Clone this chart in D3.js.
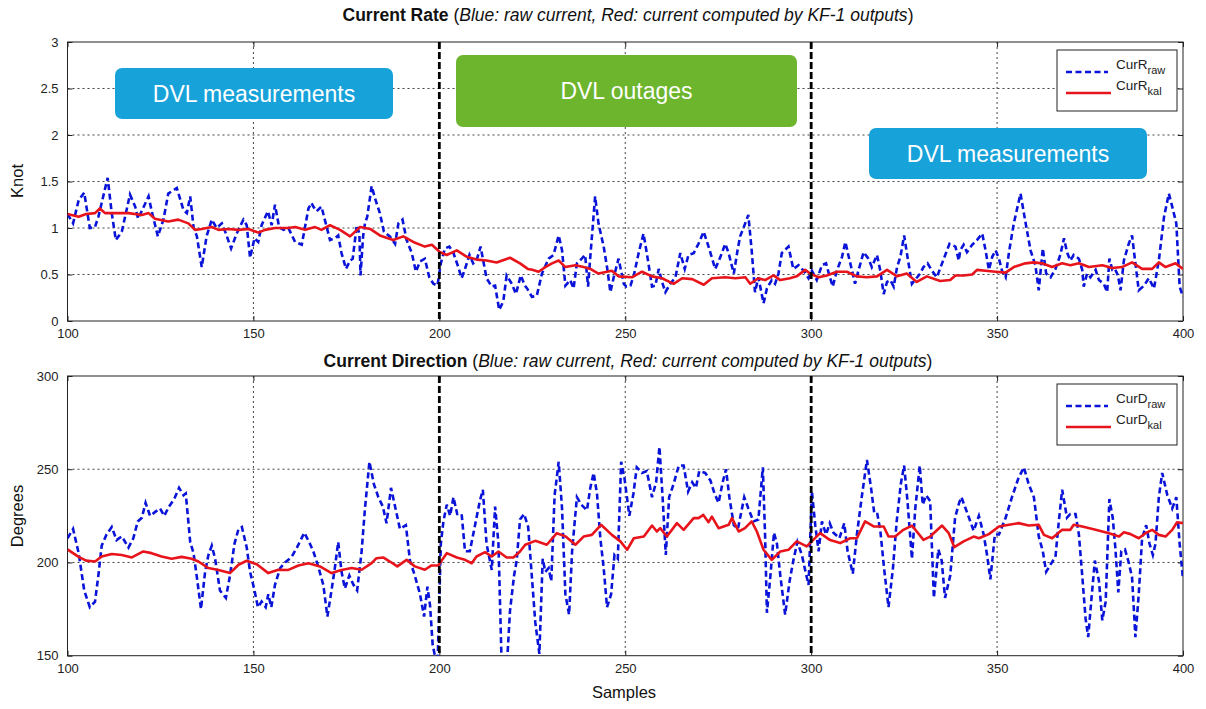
<!DOCTYPE html>
<html>
<head>
<meta charset="utf-8">
<script src="https://cdn.jsdelivr.net/npm/d3@7"></script>
<style>
  body { margin: 0; background: #fff; }
  svg { display: block; font-family: "Liberation Sans", Arial, sans-serif; }
</style>
</head>
<body>
<svg id="chart" width="1206" height="709"></svg>
<script>
// Samples on x (vertices of each trace)
const xTicks = [100, 150, 200, 250, 300, 350, 400];
const rateTicks = [0, 0.5, 1, 1.5, 2, 2.5, 3];
const dirTicks = [150, 200, 250, 300];
const phaseBounds = [200, 300];

const rateRaw = [[100,1.15],[101.5,1.05],[103,1.3],[104.5,1.38],[106,1.0],[107.4,1.01],[108.3,1.12],[110.8,1.54],[111.9,1.16],[113,0.87],[114.6,0.96],[116.8,1.36],[118.2,1.23],[119,1.10],[121.8,1.34],[122.6,1.19],[124.3,0.91],[125.8,1.09],[127.1,1.37],[129.4,1.43],[131.2,1.19],[132.1,1.16],[133,1.34],[133.9,1.01],[134.8,0.91],[136.1,0.58],[137.4,0.91],[138.8,1.09],[140.1,1.0],[141.5,1.05],[142.6,0.94],[144,0.78],[145.5,0.94],[147.3,1.09],[148.2,1.03],[149.1,0.68],[150.3,0.89],[151.3,0.85],[152.2,1.03],[153.9,1.18],[154.9,1.03],[155.8,1.25],[156.9,1.01],[158.1,0.98],[159.4,1.0],[161.2,0.85],[163,0.82],[164.8,1.21],[165.6,1.27],[166.1,1.23],[167,1.18],[168.3,1.23],[169.2,1.09],[170.6,0.87],[171.9,0.89],[172.8,0.92],[173.7,0.73],[174.9,0.56],[176,0.65],[176.7,0.67],[177.8,1.03],[178.5,0.94],[178.8,0.49],[179.5,0.91],[180,1.05],[180.6,1.12],[181.8,1.45],[182.7,1.32],[184,1.16],[185.1,0.96],[186.7,0.91],[188.1,0.83],[189,1.05],[190.1,1.09],[191.2,0.87],[192.6,0.73],[193.7,0.53],[194.8,0.64],[196.1,0.67],[197.3,0.47],[198.4,0.40],[199.5,0.38],[200.4,0.62],[201.5,0.78],[202.7,0.80],[203.8,0.73],[205.1,0.58],[206,0.46],[206.9,0.56],[208.1,0.71],[209.1,0.62],[210,0.65],[211.1,0.80],[211.8,0.65],[212.7,0.46],[214.1,0.37],[215,0.38],[216.1,0.12],[217.2,0.21],[218.1,0.49],[219.5,0.40],[220.6,0.29],[221.9,0.49],[223,0.38],[223.6,0.35],[224.9,0.26],[226.2,0.27],[227.6,0.51],[229.4,0.67],[230.7,0.71],[232.1,0.92],[233,0.76],[233.9,0.38],[235.2,0.44],[236.1,0.35],[237,0.62],[238.3,0.67],[239.2,0.71],[240,0.37],[240.6,0.69],[241.9,1.34],[242.8,1.05],[244.2,0.80],[245.1,0.58],[246,0.31],[246.9,0.47],[248.2,0.67],[249.6,0.40],[250.3,0.37],[251.4,0.38],[252.3,0.49],[253.6,0.73],[254.9,0.94],[255.8,0.73],[257.2,0.37],[258.1,0.38],[259,0.56],[259.9,0.42],[260.8,0.31],[262.1,0.40],[263.5,0.47],[264.8,0.73],[266,0.56],[267,0.71],[268.4,0.73],[269.7,0.83],[271.1,0.96],[272.4,0.80],[274.2,0.56],[275.6,0.69],[276.9,0.83],[277.8,0.73],[279.2,0.51],[280.2,0.76],[280.9,0.91],[281.8,1.0],[283.1,1.14],[284,0.76],[284.9,0.31],[285.8,0.47],[287.2,0.19],[288.1,0.35],[289.4,0.44],[290.3,0.40],[291.2,0.51],[292.1,0.73],[293.9,0.80],[295.2,0.56],[296.6,0.60],[298,0.54],[299.3,0.46],[300.2,0.54],[301.5,0.44],[302.9,0.60],[304,0.62],[304.9,0.49],[305.8,0.37],[306.9,0.54],[308.3,0.69],[309.2,0.85],[310.1,0.69],[311,0.54],[311.8,0.40],[312.7,0.54],[314.1,0.74],[315.4,0.67],[316.3,0.58],[317.7,0.71],[318.6,0.54],[319.5,0.29],[320.4,0.42],[321.3,0.44],[322.2,0.37],[323.1,0.58],[324,0.69],[325,0.92],[325.9,0.69],[327.1,0.40],[328.3,0.46],[329.3,0.51],[330.2,0.58],[331.3,0.62],[332.5,0.54],[333.8,0.47],[335.2,0.62],[337.2,0.83],[338.8,0.80],[339.7,0.65],[340.1,0.76],[341,0.82],[341.9,0.74],[343.3,0.82],[344.6,0.87],[346,0.94],[346.9,0.76],[347.8,0.55],[348.7,0.69],[349.6,0.76],[350.5,0.67],[351.4,0.53],[352.3,0.47],[353.2,0.74],[354.5,1.05],[356.3,1.37],[357.6,1.07],[359,0.76],[360.3,0.60],[361.2,0.33],[362.3,0.78],[363.2,0.51],[364.4,0.47],[365.7,0.56],[367,0.71],[368,0.89],[368.8,0.74],[369.7,0.65],[370.6,0.71],[372,0.67],[372.9,0.55],[373.3,0.37],[374.2,0.51],[375.1,0.47],[376.5,0.55],[377.4,0.44],[378.7,0.40],[379.6,0.31],[380.2,0.67],[381,0.55],[381.7,0.56],[382.5,0.49],[383.2,0.33],[384.1,0.65],[385.4,0.83],[386.3,0.92],[387.2,0.62],[388.1,0.33],[389.5,0.38],[390.8,0.46],[392.2,0.35],[393.5,0.65],[394.9,1.12],[396.2,1.37],[397.1,1.23],[398.2,1.05],[399.1,0.37],[400,0.26]];

const rateKal = [[100,1.15],[103,1.12],[105,1.15],[107.4,1.16],[108.7,1.21],[110.1,1.16],[112.8,1.16],[116.4,1.16],[120,1.14],[121.8,1.16],[123.5,1.10],[127.1,1.07],[129.8,1.09],[132.5,1.05],[134.3,0.98],[136.1,0.99],[138.8,1.01],[140.6,0.98],[143.3,0.99],[146,0.98],[148.7,0.99],[151.3,0.95],[153.1,0.98],[155.8,1.0],[159.4,1.0],[161.2,1.01],[163.9,0.98],[166.6,1.01],[168.3,0.98],[170.6,1.03],[173.3,0.98],[176,0.91],[178.7,1.01],[181.4,0.99],[184,0.92],[187.6,0.87],[190.3,0.91],[193,0.85],[196.1,0.80],[198,0.82],[200.2,0.74],[202,0.71],[204.7,0.76],[207.4,0.69],[210,0.66],[212.7,0.65],[215.4,0.63],[219,0.68],[221.7,0.62],[223.8,0.56],[225,0.55],[226.7,0.53],[228.5,0.58],[230.3,0.62],[232.1,0.65],[233.9,0.58],[236.6,0.60],[238.8,0.58],[240.6,0.56],[242.8,0.51],[246.4,0.54],[248.2,0.48],[251.8,0.47],[254.5,0.53],[257.2,0.48],[259.9,0.46],[263,0.40],[265.3,0.46],[268,0.45],[271.1,0.39],[273.3,0.46],[276.9,0.47],[279.6,0.46],[282.3,0.47],[283.6,0.40],[285.8,0.46],[287.6,0.44],[289.9,0.49],[291.7,0.44],[294.3,0.46],[296.1,0.48],[298.4,0.55],[299.7,0.51],[302,0.47],[304.2,0.49],[306.9,0.53],[309.6,0.53],[312.3,0.48],[315,0.47],[317.7,0.48],[320.4,0.55],[323.1,0.48],[325.7,0.51],[328.4,0.42],[331.1,0.48],[334.7,0.43],[337.4,0.44],[338.8,0.49],[341,0.49],[343.3,0.50],[344.6,0.55],[346.9,0.54],[349.6,0.53],[352.3,0.52],[354.5,0.58],[357.6,0.62],[359.9,0.63],[362.1,0.62],[364.8,0.58],[367.5,0.62],[369.7,0.60],[372,0.62],[374.7,0.58],[378.3,0.60],[381,0.57],[383.6,0.58],[386.3,0.63],[389,0.56],[391.7,0.56],[393.5,0.63],[395.3,0.58],[398,0.62],[400,0.56]];

const dirRaw = [[100,213],[101.5,218],[103,205],[104.5,185],[106,176],[107.4,179],[108.3,193],[109.2,209],[110.5,215],[111.9,219],[113.2,212],[114.6,214],[116.4,208],[117.7,213],[118.9,222],[120,224],[121,232],[122.2,225],[123.5,227],[124.9,229],[126,225],[127.3,230],[128.7,234],[130,240],[131.2,236],[131.8,237],[133,211],[133.9,205],[134.8,192],[135.9,175],[137,195],[137.9,204],[138.8,209],[139.7,202],[141,185],[142.6,181],[143.7,193],[144.9,210],[146,218],[146.9,219],[148.2,208],[149.1,195],[150.3,185],[151.2,176],[152.2,179],[153.3,176],[154,183],[154.8,176],[155.8,188],[157.2,197],[158.5,200],[160.3,203],[161.7,208],[163.7,216],[165.2,210],[166.1,206],[167.4,198],[168.8,188],[169.9,171],[171,185],[171.9,197],[172.8,211],[173.7,195],[174.6,186],[175.8,193],[176.9,188],[177.9,185],[179.1,206],[180,229],[181.2,254],[182.4,242],[183.6,235],[184.8,230],[185.8,221],[187,240],[188.1,230],[189.4,218],[191,220],[192.1,201],[193.4,193],[194.8,183],[195.9,171],[196.8,187],[197.5,177],[198.2,156],[199.5,143],[200.4,210],[201.1,222],[202,231],[202.9,225],[203.8,235],[204.8,226],[206,226],[206.9,206],[208.2,206],[209.6,220],[210.9,233],[211.7,239],[212.7,210],[214.1,196],[215,230],[215.9,210],[216.8,142],[218.1,142],[219,174],[220.1,193],[220.8,201],[221.7,223],[222.8,226],[223.9,219],[224.9,192],[225.8,168],[226.9,151],[227.8,202],[228.5,195],[229.4,197],[230.1,190],[231,236],[232.1,254],[233,229],[233.9,183],[234.9,172],[235.7,206],[237,235],[238.2,231],[239.7,228],[240.6,240],[241.5,248],[242.4,237],[243.3,213],[244.2,197],[245.1,176],[246.2,183],[247.1,204],[248,202],[248.9,254],[249.8,245],[251.1,225],[252.2,237],[253.1,251],[254.5,248],[255.8,249],[257.2,235],[258.3,243],[259.2,262],[260.1,233],[260.9,204],[261.8,235],[263,242],[264.4,252],[265.7,252],[266.9,238],[268,243],[269,240],[269.9,249],[271.5,248],[272.9,244],[274,237],[275.1,232],[276.2,243],[277.1,250],[278,235],[279.2,220],[280.3,218],[281.4,229],[282,235],[283.1,229],[284.5,222],[285.8,223],[287,251],[287.6,215],[288.1,173],[289,192],[290,216],[290.8,210],[291.7,193],[293,172],[294.2,190],[295.2,201],[296.3,211],[297.5,204],[298.7,193],[299.3,188],[299.7,210],[300.2,238],[301.1,220],[302,206],[302.9,222],[304,215],[305,221],[306,216],[307.6,213],[308.9,221],[309.8,206],[311.2,194],[312.3,215],[313.6,235],[315,255],[316.1,240],[317,226],[317.8,226],[318.6,217],[319.6,197],[320.8,176],[322,197],[323,222],[324.1,242],[325,252],[325.9,233],[327.1,202],[328,229],[329.2,252],[330,231],[330.9,236],[332,233],[333,181],[334.2,207],[335.1,201],[336,181],[337.4,193],[338.7,224],[339.8,232],[340.4,235],[341.9,227],[343.7,217],[345.1,225],[346.4,215],[347.3,204],[348.2,191],[349.4,215],[350.5,215],[352.3,224],[354,235],[355.7,245],[357.2,251],[358.5,242],[359.9,235],[361.2,214],[362.3,206],[363.2,195],[364.4,199],[365.7,203],[366.6,222],[367.5,239],[368.8,224],[369.7,226],[371.1,226],[372,215],[372.9,193],[373.8,170],[374.5,160],[375.4,181],[376.3,201],[377.4,190],[378.3,169],[379.2,179],[380.2,234],[381.1,224],[381.8,208],[382.6,184],[383.4,206],[384.4,207],[385.4,200],[386.3,192],[387.2,160],[388.1,183],[389,213],[390.1,220],[391,210],[391.9,204],[392.6,210],[393.5,235],[394.4,248],[395.8,236],[397.1,229],[398.2,235],[399.1,210],[400,191]];

const dirKal = [[100,207],[103,203],[105,201],[107.4,200.5],[109.2,203.2],[111.9,204.5],[114.6,204],[117.3,202.7],[120.4,205.9],[122.6,205],[125.3,203.2],[128,202],[130.7,203],[133.4,202],[135.2,200.5],[137.9,197],[140.6,196],[143.7,194.3],[146,198.8],[148.2,200.9],[150.9,199],[154,194.3],[156.7,196.1],[159.4,196],[162.1,198.4],[164.8,199.6],[167.9,197.9],[171,194.3],[173.7,196],[176.4,197],[179.1,196.1],[181.8,199.6],[183.1,202.3],[184.9,202.7],[186.7,200.5],[188.7,197.9],[191.2,201.4],[193.4,197.9],[196.1,196.1],[197.9,198.4],[199.7,198.4],[202,205],[204.7,202.7],[206.9,201.4],[208.7,199.6],[210,203.2],[212.3,205.5],[214.1,203.2],[215.9,205.9],[218.1,202.7],[219.9,202.7],[221.7,205.9],[223.1,209.5],[225.8,211.6],[228.9,209.5],[231.6,215.7],[233.9,214],[236.6,209.5],[238.8,213.9],[241,214.8],[243.5,220.2],[246.4,214.8],[248.7,211.3],[250.5,206.8],[252.3,213],[255,213.9],[257.2,219.8],[258.5,216.6],[259.4,218.4],[261.2,213.9],[263.9,221.1],[265.7,217.5],[268.4,223.8],[269.7,223.8],[271,225.5],[272.4,221.6],[273.3,224.6],[275.1,218.4],[277.8,220.2],[278.7,223.8],[280.5,216.6],[282.2,218.4],[284,222],[285.4,216.6],[287.2,206.8],[289.4,201.4],[291.7,205.9],[293.9,206.8],[296.1,211.3],[298.8,208.6],[302.4,215.7],[305.1,212],[307.8,210.4],[310.5,213],[312.3,213],[314.5,222],[316.8,219.3],[319.5,219.3],[320.8,213.9],[322.6,213.9],[324.8,217.5],[327.1,219.8],[330.2,212.1],[332,213.9],[335.2,219.8],[337,215.7],[338.5,208.2],[341,211.3],[343.7,213.9],[345.1,213],[347.8,215.2],[350.5,219.3],[353.2,220.2],[355.8,221.1],[358.5,219.8],[361.2,220.2],[362.6,214.8],[364.8,213],[367.5,217.5],[369.7,217.5],[370.6,220.2],[372.9,219.3],[376.5,217.5],[380.1,215.7],[382.8,213.9],[384.1,216.2],[385.9,215.2],[388.1,213],[389.9,215.7],[391.7,217.5],[393.5,214.8],[395.3,213.9],[397.1,217.5],[398.4,221.6],[400,221.1]];

const svg = d3.select('#chart');
const left = 67.5, right = 1183;

const x = d3.scaleLinear().domain([100, 400]).range([left, right]);

function drawPanel(opts) {
    const { top, bottom, yDomain, yTicks, raw, kal, id } = opts;
    const y = d3.scaleLinear().domain(yDomain).range([bottom, top]);
    const g = svg.append('g');

    // clip
    svg.append('clipPath').attr('id', 'clip-' + id)
        .append('rect').attr('x', left).attr('y', top)
        .attr('width', right - left).attr('height', bottom - top);

    // grid (dotted)
    g.selectAll('.hgrid').data(yTicks.slice(1, -1)).join('line')
        .attr('x1', left).attr('x2', right)
        .attr('y1', d => y(d)).attr('y2', d => y(d))
        .attr('stroke', '#444').attr('stroke-width', 1).attr('stroke-dasharray', '2,3');
    g.selectAll('.vgrid').data(xTicks.slice(1, -1).filter(d => !phaseBounds.includes(d))).join('line')
        .attr('x1', d => x(d)).attr('x2', d => x(d))
        .attr('y1', top).attr('y2', bottom)
        .attr('stroke', '#444').attr('stroke-width', 1).attr('stroke-dasharray', '2,3');

    // axes: tick labels + inward ticks on all sides
    const yAxis = d3.axisLeft(y).tickValues(yTicks).tickSize(-5).tickPadding(9).tickFormat(d3.format('~g'));
    const xAxis = d3.axisBottom(x).tickValues(xTicks).tickSize(-5).tickPadding(8);
    g.append('g').attr('transform', `translate(${left},0)`).call(yAxis);
    g.append('g').attr('transform', `translate(0,${bottom})`).call(xAxis);
    g.append('g').attr('transform', `translate(${right},0)`).call(d3.axisRight(y).tickValues(yTicks).tickSize(-5).tickFormat(''));
    g.append('g').attr('transform', `translate(0,${top})`).call(d3.axisTop(x).tickValues(xTicks).tickSize(-5).tickFormat(''));
    g.selectAll('.domain').remove();
    g.selectAll('.tick line').attr('stroke', '#222');
    g.selectAll('.tick text').attr('font-size', '13px').attr('fill', '#222')
        .attr('font-family', '"Liberation Sans", Arial, sans-serif');

    // frame
    g.append('rect').attr('x', left).attr('y', top)
        .attr('width', right - left).attr('height', bottom - top)
        .attr('fill', 'none').attr('stroke', '#222').attr('stroke-width', 1);

    // series
    const line = d3.line().x(d => x(d[0])).y(d => y(d[1]));
    const plot = g.append('g').attr('clip-path', `url(#clip-${id})`);
    plot.append('path').datum(raw)
        .attr('fill', 'none').attr('stroke', '#0a14d8').attr('stroke-width', 2.6)
        .attr('stroke-dasharray', '6,3.5').attr('d', line);
    plot.append('path').datum(kal)
        .attr('fill', 'none').attr('stroke', '#e8141c').attr('stroke-width', 2.6)
        .attr('stroke-linejoin', 'round').attr('d', line);

    // phase boundaries
    g.selectAll('.phase').data(phaseBounds).join('line')
        .attr('x1', d => x(d)).attr('x2', d => x(d))
        .attr('y1', top).attr('y2', bottom)
        .attr('stroke', '#000').attr('stroke-width', 2.8).attr('stroke-dasharray', '7,3');

    // legend
    const lg = g.append('g').attr('transform', `translate(1057,${top + 8})`);
    lg.append('rect').attr('width', 120).attr('height', 61)
        .attr('fill', '#fff').attr('stroke', '#222').attr('stroke-width', 1);
    lg.append('line').attr('x1', 9).attr('x2', 51).attr('y1', 22).attr('y2', 22)
        .attr('stroke', '#0a14d8').attr('stroke-width', 2.6).attr('stroke-dasharray', '6,3.5');
    lg.append('line').attr('x1', 9).attr('x2', 54).attr('y1', 43).attr('y2', 43)
        .attr('stroke', '#e8141c').attr('stroke-width', 2.6);
    [['raw', 19], ['kal', 40]].forEach(([sub, yy]) => {
        const t = lg.append('text').attr('x', 59).attr('y', yy)
            .attr('font-size', '13.5px').attr('fill', '#222');
        t.append('tspan').text(opts.legendBase);
        t.append('tspan').attr('dy', 5).attr('font-size', '11px').text(sub);
    });

    return y;
}

function title(yPos, bold) {
    const t = svg.append('text').attr('x', 628).attr('y', yPos)
        .attr('text-anchor', 'middle').attr('font-size', '17.5px').attr('fill', '#111');
    t.append('tspan').attr('font-weight', 'bold').text(bold + ' ');
    t.append('tspan').text('(');
    t.append('tspan').attr('font-style', 'italic').text('Blue: raw current, Red: current computed by KF-1 outputs');
    t.append('tspan').text(')');
}

title(21, 'Current Rate');
title(367, 'Current Direction');

// axis labels
svg.append('text').attr('transform', 'translate(23,181) rotate(-90)')
    .attr('text-anchor', 'middle').attr('font-size', '16.5px').attr('fill', '#111').text('Knot');
svg.append('text').attr('transform', 'translate(23,516) rotate(-90)')
    .attr('text-anchor', 'middle').attr('font-size', '16.5px').attr('fill', '#111').text('Degrees');
svg.append('text').attr('x', 624).attr('y', 698)
    .attr('text-anchor', 'middle').attr('font-size', '16.5px').attr('fill', '#111').text('Samples');

drawPanel({ id: 'rate', top: 42, bottom: 321, yDomain: [0, 3], yTicks: rateTicks,
    raw: rateRaw, kal: rateKal, legendBase: 'CurR' });
drawPanel({ id: 'dir', top: 376, bottom: 655.7, yDomain: [150, 300], yTicks: dirTicks,
    raw: dirRaw, kal: dirKal, legendBase: 'CurD' });

// phase annotation boxes
const boxes = [
    { label: 'DVL measurements', x0: 115, y0: 68, w: 278, h: 51, color: '#17a2da' },
    { label: 'DVL outages', x0: 456, y0: 55, w: 341, h: 72, color: '#6cb52c' },
    { label: 'DVL measurements', x0: 869, y0: 128, w: 278, h: 51, color: '#17a2da' }
];
const bg = svg.append('g');
bg.selectAll('rect').data(boxes).join('rect')
    .attr('x', d => d.x0).attr('y', d => d.y0)
    .attr('width', d => d.w).attr('height', d => d.h)
    .attr('rx', 7).attr('fill', d => d.color);
bg.selectAll('text').data(boxes).join('text')
    .attr('x', d => d.x0 + d.w / 2).attr('y', d => d.y0 + d.h / 2 + 8)
    .attr('text-anchor', 'middle').attr('font-size', '23px').attr('fill', '#fff')
    .text(d => d.label);
</script>
</body>
</html>
